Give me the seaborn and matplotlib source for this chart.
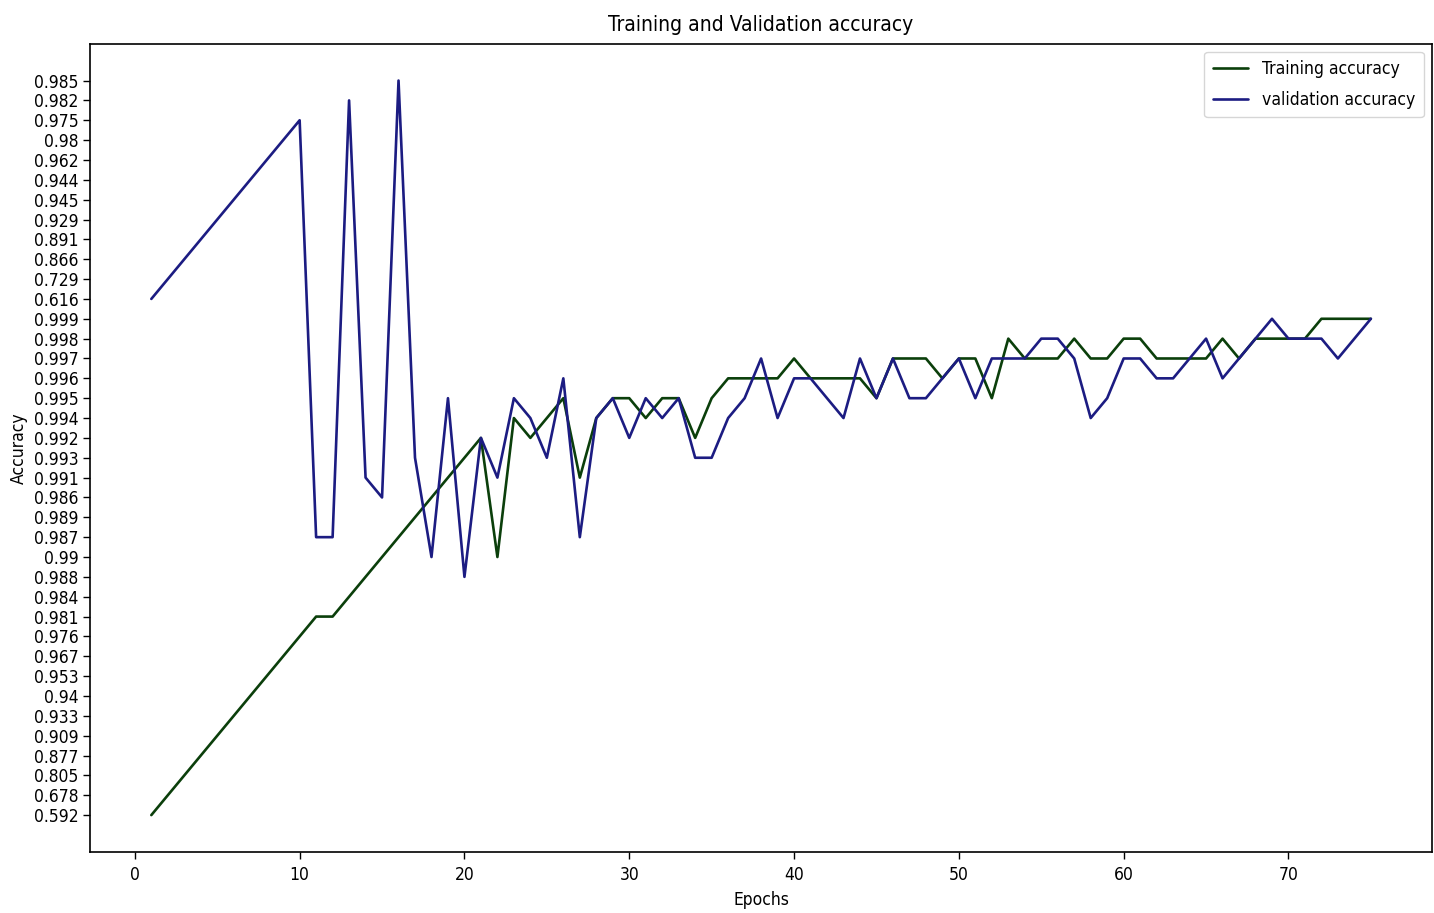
import numpy as np
import pandas as pd
import matplotlib
matplotlib.use("Agg")
import matplotlib.pyplot as plt
import seaborn as sns

epochs = list(range(1, 76))

training_acc = [
    "0.592", "0.678", "0.805", "0.877", "0.909", "0.933", "0.94", "0.953", "0.967", "0.976",
    "0.981", "0.981", "0.984", "0.988", "0.99", "0.987", "0.989", "0.986", "0.991", "0.993",
    "0.992", "0.99", "0.994", "0.992", "0.994", "0.995", "0.991", "0.994", "0.995", "0.995",
    "0.994", "0.995", "0.995", "0.992", "0.995", "0.996", "0.996", "0.996", "0.996", "0.997",
    "0.996", "0.996", "0.996", "0.996", "0.995", "0.997", "0.997", "0.997", "0.996", "0.997",
    "0.997", "0.995", "0.998", "0.997", "0.997", "0.997", "0.998", "0.997", "0.997", "0.998",
    "0.998", "0.997", "0.997", "0.997", "0.997", "0.998", "0.997", "0.998", "0.998", "0.998",
    "0.998", "0.999", "0.999", "0.999", "0.999",
]

validation_acc = [
    "0.616", "0.729", "0.866", "0.891", "0.929", "0.945", "0.944", "0.962", "0.98", "0.975",
    "0.987", "0.987", "0.982", "0.991", "0.986", "0.985", "0.993", "0.99", "0.995", "0.988",
    "0.992", "0.991", "0.995", "0.994", "0.993", "0.996", "0.987", "0.994", "0.995", "0.992",
    "0.995", "0.994", "0.995", "0.993", "0.993", "0.994", "0.995", "0.997", "0.994", "0.996",
    "0.996", "0.995", "0.994", "0.997", "0.995", "0.997", "0.995", "0.995", "0.996", "0.997",
    "0.995", "0.997", "0.997", "0.997", "0.998", "0.998", "0.997", "0.994", "0.995", "0.997",
    "0.997", "0.996", "0.996", "0.997", "0.998", "0.996", "0.997", "0.998", "0.999", "0.998",
    "0.998", "0.998", "0.997", "0.998", "0.999",
]

series_names = ["Training accuracy", "validation accuracy"]
series_colors = ["#0b3f0b", "#1c1c82"]

sns.set_theme(style="ticks")
plt.rcParams["font.family"] = ["DejaVu Sans"]
plt.rcParams["font.stretch"] = "condensed"
plt.rcParams["text.color"] = "black"
plt.rcParams["axes.labelcolor"] = "black"
plt.rcParams["xtick.color"] = "black"
plt.rcParams["ytick.color"] = "black"

df = pd.DataFrame({
    "Epochs": epochs * 2,
    "Accuracy": training_acc + validation_acc,
    "series": [series_names[0]] * len(epochs) + [series_names[1]] * len(epochs),
})
# categorical y axis in order of first appearance
df["Accuracy"] = pd.Categorical(df["Accuracy"], categories=list(pd.unique(df["Accuracy"])))

fig = plt.figure(figsize=(14.34, 9.13), dpi=100)
ax = fig.add_axes([0.063, 0.067, 0.9355, 0.885])

sns.lineplot(data=df, x="Epochs", y="Accuracy", hue="series",
             palette=dict(zip(series_names, series_colors)),
             estimator=None, sort=True, linewidth=1.9, ax=ax)

if ax.yaxis_inverted():
    ax.invert_yaxis()

ax.set_title("Training and Validation accuracy", fontsize=15, pad=9)
ax.set_xlabel("Epochs", fontsize=12.5, labelpad=5)
ax.set_ylabel("Accuracy", fontsize=12.5)
ax.tick_params(axis="both", labelsize=12.5, length=5, width=1, color="black")
ax.tick_params(axis="x", pad=5)
ax.set_xticks([0, 10, 20, 30, 40, 50, 60, 70])
for s in ax.spines.values():
    s.set_visible(True)
    s.set_color("black")
    s.set_linewidth(1.2)

sns.move_legend(ax, "upper right", title=None, fontsize=12.6, frameon=True,
                labelspacing=0.7, borderaxespad=0.45, borderpad=0.5)

fig.savefig("out.png", dpi=100)
